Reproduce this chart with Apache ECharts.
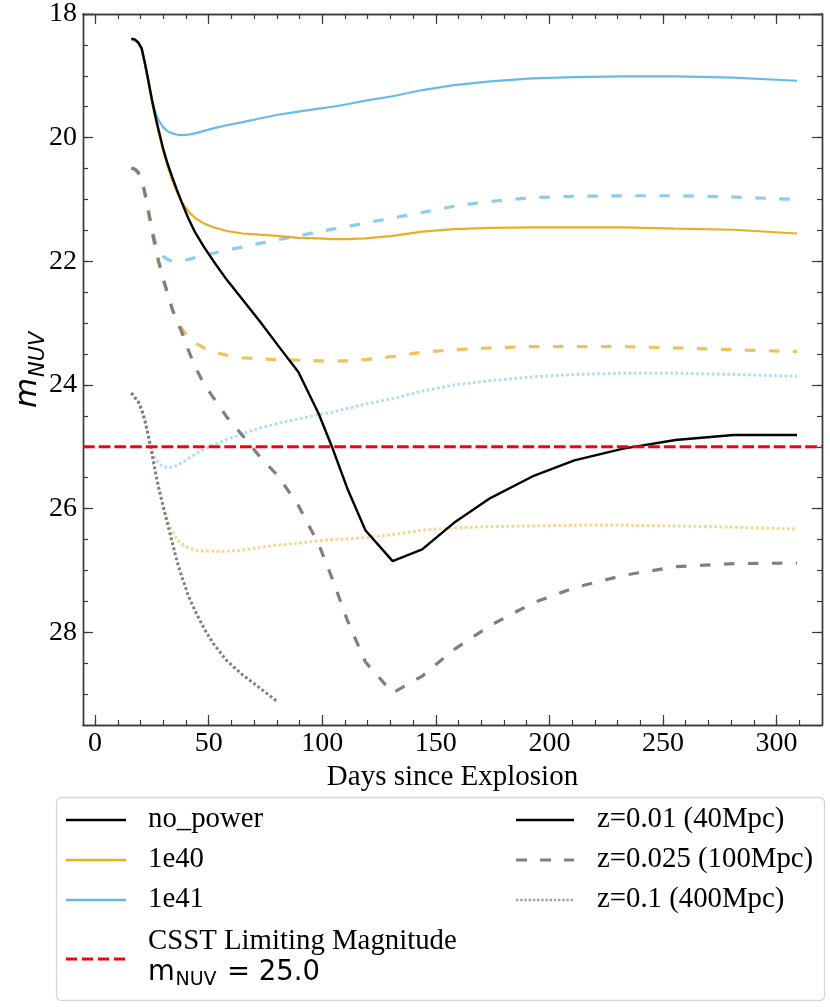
<!DOCTYPE html>
<html><head><meta charset="utf-8">
<script src="https://cdn.jsdelivr.net/npm/echarts@6/dist/echarts.min.js"></script>
<style>html,body{margin:0;padding:0;background:#fff}#c{width:830px;height:1007px}</style>
</head><body><div id="c"></div>
<script>
// ---- data (days since explosion, NUV apparent magnitude) ----
const days = [16, 17.5, 19, 20.5, 22, 23.5, 25, 26.5, 28, 30, 32, 34, 36, 38, 41, 44, 48, 52, 58, 65, 72.5, 80.5, 89.5, 98.5, 104.5, 111, 119, 131, 144, 158, 174, 192.5, 211, 232.5, 255.5, 281, 309];

const noPowerZ001 = [18.40,18.41,18.46,18.55,18.80,19.08,19.38,19.64,19.88,20.18,20.43,20.64,20.84,21.03,21.30,21.53,21.77,21.99,22.30,22.62,22.97,23.36,23.79,24.47,25.02,25.67,26.35,26.85,26.66,26.23,25.83,25.48,25.22,25.03,24.89,24.81,24.81];
const noPowerZ0025 = [20.49,20.51,20.56,20.66,20.90,21.18,21.48,21.76,22.00,22.28,22.53,22.78,22.97,23.13,23.43,23.70,23.99,24.20,24.52,24.82,25.16,25.47,25.95,26.58,27.14,27.80,28.48,28.98,28.71,28.28,27.89,27.53,27.28,27.08,26.94,26.89,26.88];
const noPowerZ01 = [24.13,24.20,24.27,24.40,24.58,24.83,25.10,25.40,25.66,25.97,26.26,26.55,26.84,27.08,27.40,27.65,27.94,28.18,28.46,28.69,28.90,29.13,null,null,null,null,null,null,null,null,null,null,null,null,null,null,null];

const p1e40Z001 = [18.40,18.42,18.47,18.57,18.83,19.12,19.42,19.68,19.92,20.22,20.47,20.69,20.88,21.03,21.19,21.30,21.39,21.45,21.51,21.55,21.57,21.59,21.62,21.63,21.64,21.64,21.63,21.59,21.52,21.48,21.46,21.45,21.45,21.45,21.47,21.49,21.55];
const p1e40Z0025 = [20.49,20.51,20.57,20.68,20.92,21.21,21.51,21.78,22.02,22.30,22.54,22.76,22.94,23.08,23.22,23.32,23.40,23.46,23.52,23.56,23.58,23.59,23.60,23.61,23.61,23.61,23.59,23.54,23.47,23.43,23.40,23.38,23.38,23.38,23.40,23.43,23.46];
const p1e40Z01 = [24.13,24.20,24.27,24.40,24.58,24.83,25.10,25.40,25.66,25.96,26.20,26.37,26.49,26.57,26.63,26.67,26.69,26.69,26.69,26.67,26.63,26.59,26.56,26.52,26.50,26.49,26.47,26.42,26.35,26.31,26.29,26.28,26.27,26.27,26.28,26.30,26.33];

const p1e41Z001 = [18.42,18.43,18.47,18.57,18.82,19.10,19.38,19.58,19.72,19.83,19.90,19.93,19.95,19.96,19.95,19.93,19.89,19.85,19.80,19.75,19.69,19.63,19.58,19.53,19.50,19.46,19.40,19.33,19.23,19.15,19.09,19.04,19.02,19.01,19.01,19.03,19.08];
const p1e41Z0025 = [20.49,20.51,20.57,20.68,20.92,21.20,21.47,21.68,21.82,21.92,21.97,22.00,22.00,21.99,21.97,21.94,21.90,21.87,21.82,21.77,21.71,21.65,21.59,21.52,21.48,21.44,21.38,21.30,21.21,21.11,21.03,20.97,20.95,20.94,20.94,20.96,21.00];
const p1e41Z01 = [24.13,24.20,24.27,24.40,24.58,24.83,25.05,25.19,25.27,25.32,25.34,25.33,25.30,25.26,25.19,25.12,25.04,24.97,24.88,24.79,24.70,24.62,24.55,24.48,24.44,24.38,24.31,24.22,24.10,24.00,23.93,23.87,23.83,23.81,23.81,23.83,23.86];

const limitMag = 25.0;

const xRange = [-5.3, 320];
const yRange = [18, 29.5];
const xMajorTicks = [0, 50, 100, 150, 200, 250, 300];
const xMinorTicks = [0,10,20,30,40,50,60,70,80,90,100,110,120,130,140,150,160,170,180,190,200,210,220,230,240,250,260,270,280,290,300,310];
const yMajorTicks = [18, 20, 22, 24, 26, 28];
const yMinorTicks = [18,18.5,19,19.5,20,20.5,21,21.5,22,22.5,23,23.5,24,24.5,25,25.5,26,26.5,27,27.5,28,28.5,29];

const modelNames = ['no_power', '1e40', '1e41'];
const distNames = ['z=0.01 (40Mpc)', 'z=0.025 (100Mpc)', 'z=0.1 (400Mpc)'];
const limitName1 = 'CSST Limiting Magnitude';

// ---- styles ----
const SERIF = 'Liberation Serif';
const AX = '#3a3a3a';
const ORANGE = '230,159,0';
const BLUE = '86,180,233';
const DASH = [10.5, 13.5];
const DOT = [2.8, 2.4];
const LFS = 28.8;

function pairs(vals){ return days.map((d,i)=>[d, vals[i]]); }
function line(name, vals, color, width, type, z){
  return {type:'line', name:name, data:pairs(vals), xAxisIndex:0, yAxisIndex:0,
    showSymbol:false, symbol:'none', smooth:false, connectNulls:false, z:z,
    lineStyle:{color:color, width:width, type:type, cap:'butt'}, emphasis:{disabled:true}};
}

function xAx(pos, ticks, len, labels){
  const a = {type:'value', position:pos, gridIndex:0, min:xRange[0], max:xRange[1],
    axisLine:{show:true, onZero:false, lineStyle:{color:AX, width:1.4}},
    axisTick:{show:true, inside:true, length:len, customValues:ticks, lineStyle:{color:AX, width:1.2}},
    axisLabel:{show:false}, splitLine:{show:false}, minorTick:{show:false}};
  if (labels) {
    a.axisLabel = {show:true, customValues:ticks, fontFamily:SERIF, fontSize:28, color:'#000', margin:5};
    a.name = 'Days since Explosion'; a.nameLocation = 'middle'; a.nameGap = 33;
    a.nameTextStyle = {fontFamily:SERIF, fontSize:29, color:'#000'};
  }
  return a;
}
function yAx(pos, ticks, len, labels){
  const a = {type:'value', position:pos, gridIndex:0, min:yRange[0], max:yRange[1], inverse:true,
    axisLine:{show:true, onZero:false, lineStyle:{color:AX, width:1.4}},
    axisTick:{show:true, inside:true, length:len, customValues:ticks, lineStyle:{color:AX, width:1.2}},
    axisLabel:{show:false}, splitLine:{show:false}, minorTick:{show:false}};
  if (labels) a.axisLabel = {show:true, customValues:ticks, fontFamily:SERIF, fontSize:28, color:'#000', margin:6};
  return a;
}

const series = [
  line(modelNames[2]+' '+distNames[2], p1e41Z01, 'rgba('+BLUE+',0.45)', 3, DOT, 1),
  line(modelNames[1]+' '+distNames[2], p1e40Z01, 'rgba('+ORANGE+',0.42)', 3, DOT, 1),
  line(modelNames[0]+' '+distNames[2], noPowerZ01, '#808080', 3, DOT, 2),
  line(modelNames[2]+' '+distNames[1], p1e41Z0025, 'rgba('+BLUE+',0.68)', 3.2, DASH, 3),
  line(modelNames[1]+' '+distNames[1], p1e40Z0025, 'rgba('+ORANGE+',0.65)', 3.2, DASH, 3),
  line(modelNames[0]+' '+distNames[1], noPowerZ0025, '#808080', 3.2, DASH, 4),
  line(modelNames[2]+' '+distNames[0], p1e41Z001, 'rgba('+BLUE+',0.9)', 2.2, 'solid', 5),
  line(modelNames[1]+' '+distNames[0], p1e40Z001, 'rgba('+ORANGE+',0.85)', 2.2, 'solid', 5),
  line(modelNames[0]+' '+distNames[0], noPowerZ001, '#000000', 2.4, 'solid', 6),
  {type:'line', name:limitName1, xAxisIndex:0, yAxisIndex:0, showSymbol:false, symbol:'none', z:7,
   data:[[xRange[0], limitMag],[xRange[1], limitMag]],
   lineStyle:{color:'#ff0000', width:3, type:[11.7,4]}, emphasis:{disabled:true}}
];

// ---- legend (drawn as graphics) ----
const L = {x1:66, x2:126, tx:148, rx1:516, rx2:574, rtx:597, rows:[819, 859, 899]};
function hline(x1,x2,y,stroke,w,dash){
  return {type:'line', shape:{x1:x1,y1:y,x2:x2,y2:y}, style:{stroke:stroke, lineWidth:w, lineDash:dash||null, lineCap:'butt'}, silent:true, z:100};
}
function txt(x,y,t,size,font,style){
  return {type:'text', x:x, y:y, silent:true, z:100,
    style:{text:t, fontSize:size, fontFamily:font, fontStyle:style||'normal', fill:'#000', verticalAlign:'middle', align:'left'}};
}
const graphics = [
  {type:'rect', shape:{x:56.5, y:797.5, width:768, height:203, r:5}, style:{fill:'#ffffff', stroke:'#d6d6d6', lineWidth:1.3}, silent:true, z:99},
  hline(L.x1, L.x2, L.rows[0]+1, '#000', 2.4),
  hline(L.x1, L.x2, L.rows[1]+1, 'rgba('+ORANGE+',0.85)', 2.4),
  hline(L.x1, L.x2, L.rows[2]+1, 'rgba('+BLUE+',0.9)', 2.4),
  hline(L.x1, L.x2, 959, '#ff0000', 3, [11,5]),
  txt(L.tx, L.rows[0], modelNames[0], LFS, SERIF),
  txt(L.tx, L.rows[1], modelNames[1], LFS, SERIF),
  txt(L.tx, L.rows[2], modelNames[2], LFS, SERIF),
  txt(L.tx, 941.5, limitName1, LFS, SERIF),
  txt(L.tx, 972.5, 'm', 27.5, 'DejaVu Sans'),
  txt(L.tx+27.5, 980, 'NUV', 19, 'DejaVu Sans'),
  txt(227, 972.5, '= ' + limitMag.toFixed(1), 27.5, 'DejaVu Sans'),
  hline(L.rx1, L.rx2, L.rows[0]+1, '#000', 2.4),
  hline(L.rx1, L.rx2, L.rows[1]+1, '#808080', 3, [11,13]),
  hline(L.rx1, L.rx2, L.rows[2]+1, 'rgba(128,128,128,0.75)', 2.6, [2.4,1.8]),
  txt(L.rtx, L.rows[0], distNames[0], LFS, SERIF),
  txt(L.rtx, L.rows[1], distNames[1], LFS, SERIF),
  txt(L.rtx, L.rows[2], distNames[2], LFS, SERIF),
  // y-axis title m_NUV (rotated)
  {type:'group', x:43, y:408, rotation:Math.PI/2, silent:true, children:[
    {type:'text', x:0, y:0, style:{text:'m', fontSize:31, fontFamily:'DejaVu Sans', fontStyle:'italic', fill:'#000', verticalAlign:'bottom', align:'left'}},
    {type:'text', x:31, y:6, style:{text:'NUV', fontSize:21, fontFamily:'DejaVu Sans', fontStyle:'italic', fill:'#000', verticalAlign:'bottom', align:'left'}}
  ]}
];

const chart = echarts.init(document.getElementById('c'), null, {renderer:'canvas'});
chart.setOption({
  backgroundColor:'#ffffff',
  animation:false,
  grid:{left:83, top:9, right:8, bottom:282, containLabel:false},
  xAxis:[xAx('bottom', xMajorTicks, 10, true), xAx('bottom', xMinorTicks, 5, false), xAx('top', xMajorTicks, 10, false), xAx('top', xMinorTicks, 5, false)],
  yAxis:[yAx('left', yMajorTicks, 10, true), yAx('left', yMinorTicks, 5, false), yAx('right', yMajorTicks, 10, false), yAx('right', yMinorTicks, 5, false)],
  series:series,
  graphic:graphics
});
</script>
</body></html>
